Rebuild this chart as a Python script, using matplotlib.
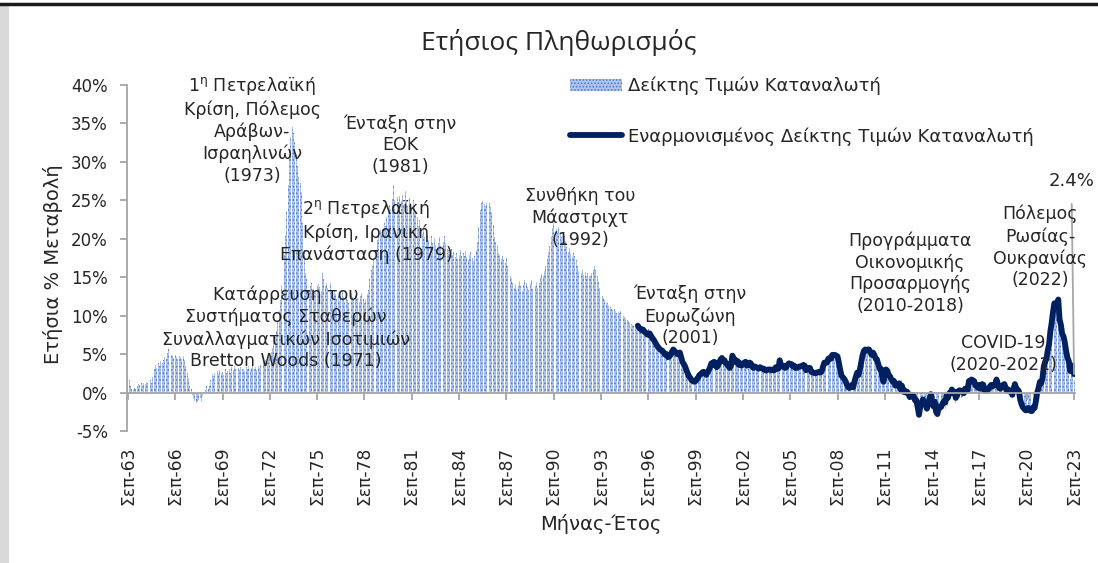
import numpy as np
import matplotlib
matplotlib.use("Agg")
import matplotlib.pyplot as plt
from matplotlib.patches import Rectangle

W, H = 1098, 563

# monthly annual % change, CPI (Sep 1963 -> Sep 2023)
cpi_60s = [2.1, 1.6, 0.8, 0.5,
           0.4, 0.6, 0.5, 0.9, 1.1, 1.0, 1.2, 1.0, 1.3, 1.1, 1.4, 1.2,
           1.4, 1.6, 1.3, 2.0, 3.1, 3.6, 3.2, 3.9, 3.5, 4.1, 3.8, 4.2,
           4.6, 4.3, 5.2, 5.7, 5.3, 4.9, 4.8, 4.5, 4.9, 4.6, 4.4, 4.7,
           4.6, 4.4, 4.7, 4.2, 3.4, 2.6, 1.9, 0.9, 0.4, -0.3, -0.8, -1.1,
           -1.4, -1.2, -1.0, -0.7, -1.2, -0.4, 0.1, 0.3, 0.8, 0.5, 0.9, 1.6,
           2.4, 2.2, 2.6, 2.1, 2.8, 2.4, 2.9, 2.5, 2.7, 2.3, 3.0, 2.6]
cpi_70s = [2.8, 3.1, 2.6, 3.3, 2.9, 3.4, 3.0, 2.7, 3.2, 2.9, 3.3, 3.0,
           3.1, 2.8, 3.3, 3.0, 3.4, 2.9, 3.2, 3.5, 3.0, 3.3, 2.9, 3.4,
           3.2, 3.6, 3.4, 3.9, 3.7, 4.2, 4.0, 4.6, 4.9, 5.3, 5.8, 6.4,
           7.2, 8.0, 9.3, 10.6, 12.1, 14.0, 15.8, 17.9, 20.5, 23.6, 27.0, 30.4,
           33.2, 34.5, 33.8, 32.6, 31.0, 29.5, 28.0, 27.2, 26.1, 22.0, 18.5, 15.5,
           14.8, 13.6, 13.0, 13.9, 14.2, 13.5, 12.9, 13.4, 13.8, 14.1, 13.7, 13.2,
           15.6, 14.8, 13.9, 14.3, 13.6, 15.0, 14.2, 13.1, 12.6, 13.3, 12.8, 12.2,
           12.5, 11.9, 12.8, 13.2, 12.4, 11.8, 12.6, 12.1, 11.7, 12.3, 12.9, 12.4,
           12.0, 12.6, 13.1, 12.3, 11.8, 12.5, 13.0, 12.2, 11.6, 12.1, 12.8, 13.4,
           14.8, 15.9, 16.5, 17.2, 17.9, 18.6, 19.8, 20.4, 21.1, 20.6, 21.3, 22.0]
cpi_80s = [21.7, 22.8, 23.5, 24.4, 23.9, 25.2, 26.9, 25.1, 24.6, 25.4, 24.8, 25.6,
           24.9, 25.7, 24.4, 26.2, 25.1, 24.2, 25.3, 24.6, 23.8, 25.0, 24.3, 23.6,
           22.8, 21.6, 22.4, 21.1, 20.6, 21.4, 20.2, 19.6, 20.5, 19.8, 19.1, 20.3,
           19.4, 20.1, 19.2, 18.6, 19.5, 20.2, 19.1, 18.4, 19.6, 20.4, 19.3, 18.7,
           18.5, 18.0, 18.7, 17.9, 18.3, 17.6, 18.1, 17.4, 17.9, 18.5, 17.7, 18.2,
           17.8, 18.4, 17.6, 17.2, 17.9, 18.3, 17.5, 17.1, 17.8, 18.5, 19.6, 21.5,
           23.8, 24.6, 24.9, 24.5, 24.3, 24.7, 24.2, 24.6, 24.1, 23.5, 21.8, 20.2,
           19.6, 19.0, 18.2, 17.9, 17.4, 17.8, 17.2, 16.9, 17.5, 16.4, 15.8, 15.2,
           14.9, 14.3, 13.6, 14.1, 13.4, 13.9, 14.5, 13.8, 13.2, 14.0, 14.6, 14.2,
           13.7, 13.3, 14.1, 14.6, 13.5, 13.1, 13.8, 14.4, 13.6, 14.2, 14.9, 15.4]
cpi_90s = [15.2, 15.8, 16.5, 17.4, 18.3, 19.1, 20.2, 21.4, 22.2, 21.8, 21.3, 20.9,
           21.5, 20.8, 20.2, 19.6, 20.4, 19.7, 18.9, 18.3, 18.8, 18.0, 17.6, 18.2,
           17.7, 17.2, 16.4, 15.8, 16.2, 15.5, 15.9, 15.3, 15.7, 15.1, 15.6, 15.2,
           15.2, 15.5, 15.9, 16.4, 16.0, 15.1, 14.4, 13.6, 12.9, 12.6, 12.3, 12.1,
           11.8, 11.6, 11.3, 11.1, 10.9, 10.8, 10.9, 10.6, 10.4, 10.5, 10.3, 10.6,
           10.2, 10.0, 9.8, 9.7, 9.5, 9.3, 9.1, 8.9, 8.8, 8.6, 8.4, 8.1,
           8.6, 8.5, 8.2, 8.3, 8.1, 8.0, 8.2, 8.1, 8.3, 8.0, 7.8, 7.6,
           7.3, 7.0, 6.6, 6.3, 6.0, 5.7, 5.5, 5.3, 5.0, 4.8, 4.7, 4.7,
           4.6, 4.8, 5.0, 5.2, 5.0, 5.1, 4.9, 5.0, 5.1, 4.5, 4.1, 3.9,
           3.6, 3.3, 3.0, 2.7, 2.4, 2.2, 2.1, 2.0, 2.1, 2.3, 2.4, 2.7]
cpi_00s = [2.8, 2.9, 2.9, 2.8, 2.7, 3.0, 3.2, 3.4, 3.8, 3.7, 4.0, 3.9,
           3.4, 3.5, 3.6, 3.8, 4.1, 3.9, 3.8, 3.6, 3.5, 3.2, 3.1, 3.4,
           4.4, 4.0, 4.1, 3.7, 3.9, 3.5, 3.6, 3.4, 3.5, 3.7, 3.7, 3.4,
           3.4, 3.8, 3.7, 3.4, 3.2, 3.4, 3.4, 3.3, 3.2, 3.4, 3.3, 3.1,
           3.2, 2.9, 2.9, 2.9, 2.9, 2.8, 2.8, 2.8, 2.8, 3.2, 3.1, 3.1,
           3.8, 3.1, 3.3, 3.4, 3.3, 3.3, 3.8, 3.9, 3.8, 3.7, 3.5, 3.6,
           3.2, 3.2, 3.3, 3.3, 3.3, 3.3, 3.6, 3.4, 2.9, 3.1, 3.1, 3.0,
           2.8, 2.8, 2.7, 2.6, 2.6, 2.6, 2.6, 2.6, 2.9, 3.2, 3.8, 3.9,
           3.9, 4.5, 4.5, 4.4, 4.8, 4.9, 4.9, 4.7, 4.6, 3.8, 3.0, 2.2,
           2.0, 1.7, 1.5, 1.1, 0.6, 0.3, 0.3, 0.6, 0.7, 1.6, 2.1, 2.6]
cpi_10s = [2.4, 2.8, 3.9, 4.6, 5.4, 5.5, 5.5, 5.5, 5.6, 5.1, 4.8, 5.2,
           5.0, 4.4, 4.2, 3.7, 3.3, 3.3, 2.1, 1.4, 3.1, 3.0, 2.8, 2.4,
           2.2, 1.7, 1.7, 1.8, 1.2, 1.3, 1.2, 1.2, 1.1, 1.6, 0.7, 0.8,
           0.2, 0.1, -0.2, -0.6, -0.4, -0.4, -0.6, -1.1, -1.0, -2.0, -2.9, -1.8,
           -1.5, -1.1, -1.5, -1.3, -2.0, -1.2, -0.7, -0.2, -1.1, -1.7, -1.1, -2.6,
           -2.8, -2.3, -2.0, -2.1, -2.1, -2.2, -2.2, -1.5, -1.7, -1.0, -0.7, -0.3,
           -0.3, -0.2, -1.3, -1.0, -0.4, -0.4, -0.7, -0.6, -0.5, -0.1, -0.3, 0.0,
           1.3, 1.3, 1.6, 1.6, 1.6, 1.0, 1.0, 0.6, 0.9, 0.5, 1.1, 1.0,
           0.2, 0.1, 0.1, 0.3, 0.6, 0.9, 0.7, 0.7, 0.9, 1.3, 0.9, 0.6,
           0.5, 0.8, 0.9, 0.9, 0.4, 0.1, 0.3, 0.1, 0.0, -0.6, 0.2, 0.9]
cpi_20s = [0.3, 0.2, 0.1, -1.0, -1.2, -1.5, -1.8, -1.9, -2.0, -2.0, -2.2, -2.3,
           -2.2, -1.6, -1.6, -0.7, 0.2, 0.6, 1.4, 1.3, 1.9, 3.4, 4.8, 5.1,
           6.2, 7.2, 8.9, 10.2, 11.3, 12.0, 11.6, 11.4, 12.0, 9.1, 8.5, 7.2,
           7.0, 6.1, 4.6, 3.0, 2.8, 1.8, 2.5, 2.7, 1.6]

# monthly annual % change, HICP (Jan 1996 -> Sep 2023)
hicp_90s = [8.7, 8.4, 8.3, 8.1, 8.2, 7.9, 7.8, 7.6, 7.5, 7.7, 7.4, 7.1,
            6.9, 6.6, 6.3, 6.0, 5.8, 5.6, 5.5, 5.4, 5.1, 4.9, 5.0, 4.6,
            4.7, 4.9, 5.3, 5.6, 5.4, 5.2, 5.0, 5.1, 5.2, 4.6, 4.0, 3.7,
            3.4, 2.9, 2.5, 2.1, 1.9, 1.6, 1.5, 1.4, 1.5, 1.7, 2.0, 2.3]
hicp_00s = [2.4, 2.6, 2.7, 2.5, 2.3, 2.6, 2.9, 3.3, 3.8, 3.6, 4.0, 3.9,
            3.3, 3.5, 3.9, 4.3, 4.5, 4.1, 4.2, 3.8, 3.7, 3.4, 3.2, 3.6,
            4.8, 4.4, 4.3, 3.9, 4.1, 3.6, 3.8, 3.5, 3.7, 3.9, 4.0, 3.5,
            3.6, 3.9, 3.8, 3.4, 3.2, 3.4, 3.3, 3.2, 3.1, 3.3, 3.2, 3.1,
            3.1, 2.9, 2.9, 3.0, 3.0, 3.0, 2.9, 3.0, 2.9, 3.3, 3.1, 3.1,
            4.2, 3.4, 3.4, 3.5, 3.2, 3.3, 3.6, 3.8, 3.7, 3.7, 3.4, 3.5,
            3.2, 3.2, 3.3, 3.4, 3.4, 3.4, 3.6, 3.5, 2.9, 3.1, 3.2, 3.2,
            2.7, 2.6, 2.6, 2.5, 2.6, 2.6, 2.7, 2.6, 2.8, 3.4, 3.9, 3.9,
            3.9, 4.4, 4.5, 4.4, 4.9, 4.9, 4.9, 4.8, 4.7, 3.9, 3.0, 2.2,
            2.0, 1.8, 1.5, 1.1, 0.7, 0.6, 0.7, 1.0, 0.7, 1.5, 2.1, 2.6]
hicp_10s = [2.3, 3.0, 3.9, 4.8, 5.4, 5.6, 5.5, 5.6, 5.6, 5.2, 4.9, 5.2,
            4.9, 4.4, 4.3, 3.7, 3.1, 3.1, 2.1, 1.4, 2.9, 3.0, 2.8, 2.2,
            2.1, 1.7, 1.4, 1.5, 0.9, 1.1, 0.9, 1.2, 0.4, 0.9, 0.1, 0.3,
            0.0, 0.1, -0.2, -0.6, -0.3, -0.3, -0.5, -1.0, -1.0, -1.9, -2.9, -1.8,
            -1.4, -0.9, -1.5, -1.6, -2.1, -1.5, -0.8, -0.2, -1.1, -1.8, -1.2, -2.5,
            -2.8, -1.9, -2.0, -1.8, -1.4, -1.1, -1.3, -0.4, -0.7, -0.1, -0.1, 0.4,
            0.0, 0.1, -0.7, -0.4, 0.2, 0.3, 0.2, 0.1, -0.1, 0.5, 0.5, 0.3,
            1.5, 1.4, 1.7, 1.6, 1.5, 0.9, 0.9, 0.6, 1.0, 0.5, 1.1, 1.0,
            0.2, 0.4, 0.2, 0.5, 0.8, 1.0, 0.8, 0.9, 1.1, 1.7, 1.1, 0.6,
            0.5, 0.8, 1.0, 1.1, 0.6, 0.2, 0.4, 0.1, 0.2, -0.3, 0.5, 1.1]
hicp_20s = [0.5, 0.4, 0.2, -0.9, -1.5, -1.9, -2.1, -2.3, -2.3, -2.0, -2.1, -2.4,
            -2.4, -1.9, -2.0, -1.1, 0.0, 0.6, 1.4, 1.2, 1.9, 3.4, 4.0, 4.4,
            5.5, 6.3, 8.0, 9.1, 10.5, 11.6, 11.3, 11.2, 12.1, 9.5, 8.8, 7.6,
            7.3, 6.5, 5.4, 4.5, 4.1, 2.8, 3.5, 3.5, 2.4]

tick_labels = ["Σεπ-63", "Σεπ-66", "Σεπ-69", "Σεπ-72", "Σεπ-75", "Σεπ-78", "Σεπ-81",
               "Σεπ-84", "Σεπ-87", "Σεπ-90", "Σεπ-93", "Σεπ-96", "Σεπ-99", "Σεπ-02",
               "Σεπ-05", "Σεπ-08", "Σεπ-11", "Σεπ-14", "Σεπ-17", "Σεπ-20", "Σεπ-23"]

cpi = np.array(cpi_60s + cpi_70s + cpi_80s + cpi_90s + cpi_00s + cpi_10s + cpi_20s)
hicp = np.array(hicp_90s + hicp_00s + hicp_10s + hicp_20s)
months = np.arange(len(cpi))
hicp_months = np.arange(len(cpi) - len(hicp), len(cpi))

plt.rcParams['font.family'] = ['DejaVu Sans']
plt.rcParams['hatch.linewidth'] = 0.8
TXT = '#262626'
AXC = '#a6a6a6'

fig = plt.figure(figsize=(W / 100, H / 100), dpi=100)
# page frame bits
fig.patches.append(Rectangle((0, 0), 9 / W, 1 - 6 / H, transform=fig.transFigure,
                             facecolor='#d9d9d9', edgecolor='none'))
fig.lines.append(plt.Line2D([0, 1], [1 - 4 / H, 1 - 4 / H], transform=fig.transFigure,
                            color='#1a1a1a', lw=2.5))

ax = fig.add_axes([127.3 / W, 1 - 431 / H, 947.4 / W, 346 / H])
bars = ax.bar(months, cpi, width=0.72, facecolor='#b0c4ec', edgecolor='#4f7cca',
              hatch='.....', linewidth=0, label='Δείκτης Τιμών Καταναλωτή')
line, = ax.plot(hicp_months, hicp, color='#002060', lw=4.2, solid_joinstyle='round',
                solid_capstyle='round', label='Εναρμονισμένος Δείκτης Τιμών Καταναλωτή')

ax.set_xlim(-0.5, len(cpi) - 0.5)
ax.set_ylim(-5, 40)
ax.set_yticks(np.arange(-5, 41, 5))
ax.set_yticklabels([f"{v}%" for v in range(-5, 41, 5)])
ax.tick_params(axis='y', colors=AXC, labelcolor=TXT, labelsize=12, length=5, width=1.3, pad=9)

ax.spines['top'].set_visible(False)
ax.spines['right'].set_visible(False)
ax.spines['left'].set_color(AXC)
ax.spines['left'].set_linewidth(1.3)
ax.spines['bottom'].set_position(('data', 0))
ax.spines['bottom'].set_color(AXC)
ax.spines['bottom'].set_linewidth(1.3)
ticks = np.arange(0, len(cpi), 36)
ax.set_xticks(ticks)
ax.tick_params(axis='x', colors=AXC, length=5, width=1.3, labelbottom=False)

sec = ax.secondary_xaxis('bottom')
sec.set_xticks(ticks)
sec.set_xticklabels(tick_labels, rotation=90, va='top', ha='center')
sec.tick_params(length=0, pad=11, labelsize=12.3, labelcolor=TXT)
sec.spines['bottom'].set_visible(False)

fig.text(53 / W, 1 - 264 / H, 'Ετήσια % Μεταβολή', rotation=90, ha='center', va='center',
         fontsize=14, color=TXT)
fig.text(601 / W, 1 - 524 / H, 'Μήνας-Έτος', ha='center', va='center', fontsize=14, color=TXT)
fig.text(559 / W, 1 - 42 / H, 'Ετήσιος Πληθωρισμός', ha='center', va='center',
         fontsize=19, color=TXT, family='Open Sans')

leg = ax.legend(handles=[bars, line], loc='upper left',
                bbox_to_anchor=(570 / W, 1 - 77 / H), bbox_transform=fig.transFigure,
                frameon=False, fontsize=13, handlelength=2.9, handleheight=0.7,
                handletextpad=0.3, labelspacing=1.75, borderpad=0, borderaxespad=0)
for t in leg.get_texts():
    t.set_color(TXT)

notes = [
    (252, 130, '1$^{\\mathregular{η}}$ Πετρελαϊκή\nΚρίση, Πόλεμος\nΑράβων-\nΙσραηλινών\n(1973)'),
    (400, 145, 'Ένταξη στην\nΕΟΚ\n(1981)'),
    (366, 231, '2$^{\\mathregular{η}}$ Πετρελαϊκή\nΚρίση, Ιρανική\nΕπανάσταση (1979)'),
    (286, 328, 'Κατάρρευση του\nΣυστήματος Σταθερών\nΣυναλλαγματικών Ισοτιμιών\nBretton Woods (1971)'),
    (580, 218, 'Συνθήκη του\nΜάαστριχτ\n(1992)'),
    (690, 316, 'Ένταξη στην\nΕυρωζώνη\n(2001)'),
    (910, 273, 'Προγράμματα\nΟικονομικής\nΠροσαρμογής\n(2010-2018)'),
    (1040, 247, 'Πόλεμος\nΡωσίας-\nΟυκρανίας\n(2022)'),
    (1003, 354, 'COVID-19\n(2020-2021)'),
]
for x, y, s in notes:
    fig.text(x / W, 1 - y / H, s, ha='center', va='center', fontsize=12.5,
             color=TXT, linespacing=1.25)

ax.annotate(f"{hicp[-1]:.1f}%", xy=(hicp_months[-1], hicp[-1]), xytext=(hicp_months[-1] - 2, 27.5),
            ha='center', va='center', fontsize=13, color=TXT,
            arrowprops=dict(arrowstyle='-', color=AXC, lw=1.3, shrinkA=8, shrinkB=0))

fig.savefig('out.png', dpi=100)
